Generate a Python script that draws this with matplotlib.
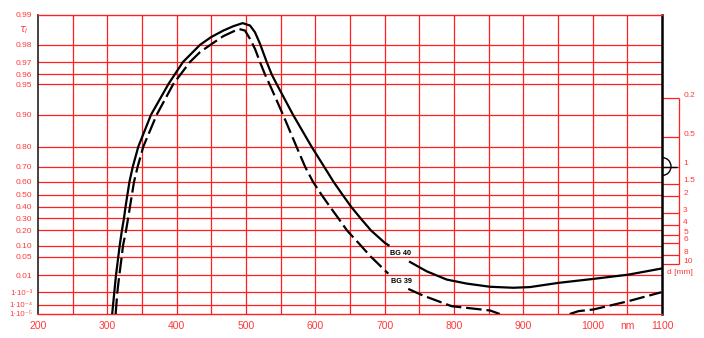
"""
Internal transmittance of BG 40 / BG 39 filter glass (Schott style diagram).
"""
import numpy as np
import matplotlib
matplotlib.use('Agg')
import matplotlib.pyplot as plt
from matplotlib.patches import Arc
from matplotlib.transforms import ScaledTranslation

# wavelength grid (nm) and labels along the bottom
x_ticks = list(range(200, 1101, 50))
x_labels = ['200', '', '300', '', '400', '', '500', '', '600', '', '700', '',
            '800', '', '900', '', '1000', 'nm', '1100']

# transmittance grid
y_ticks = [0.99, 0.98, 0.97, 0.96, 0.95, 0.90, 0.80, 0.70, 0.60, 0.50, 0.40,
           0.30, 0.20, 0.10, 0.05, 0.01, 1e-3, 1e-4, 1e-5]
y_labels = ['0.99', '0.98', '0.97', '0.96', '0.95', '0.90', '0.80', '0.70',
            '0.60', '0.50', '0.40', '0.30', '0.20', '0.10', '0.05', '0.01',
            '1\u00b710\u207b\u00b3', '1\u00b710\u207b\u2074', '1\u00b710\u207b\u2075']

# thickness scale on the right (d = 1 mm at tau = 0.70)
d_ref_tau = 0.70
d_ticks = [0.2, 0.5, 1, 1.5, 2, 3, 4, 5, 6, 8, 10]
d_labels = ['0.2', '0.5', '1', '1.5', '2', '3', '4', '5', '6', '8', '10']

# BG 40 (solid), nan = gap for the label
bg40_nm = [307, 310, 312.5, 315.8, 317.8, 321, 324, 326.3, 331.9, 336.8, 344.7,
           363, 388, 409, 433.7, 449.5, 467.3, 481.7, 495.2, 505.8, 513, 520.2,
           529.9, 537.1, 544.3, 567.8, 594.5, 612.5, 626.2, 639.2, 651.4, 665.1,
           680.3, 700.5, 705.5, np.nan, 736.5, 760.6, 789.5, 818.3, 852, 885.6,
           909.6, 950.5, 1001, 1051.4, 1098.6]
bg40_tau = [1e-5, 9.6e-4, 0.01, 0.05, 0.10, 0.20, 0.30, 0.40, 0.60, 0.70, 0.80,
            0.90, 0.95, 0.97, 0.9799, 0.9832, 0.9856, 0.9870, 0.9879, 0.9872,
            0.9850, 0.9804, 0.97, 0.96, 0.95, 0.90, 0.80, 0.70, 0.60, 0.50,
            0.40, 0.30, 0.20, 0.115, 0.1027, np.nan, 0.0341, 0.01483, 0.006,
            0.00361, 0.00233, 0.00202, 0.00223, 0.00396, 0.0065, 0.0105, 0.0192]

# BG 39 (dashed)
bg39_nm = [312, 314.4, 317.3, 320.7, 322.6, 327, 330, 332.7, 338.5, 343.8, 351.9,
           371.2, 395, 419, 433.7, 449.5, 467.3, 481.7, 490.3, 498.6, 505.8, 513,
           520.2, 527.4, 533.9, 553.4, 572.8, 585.1, 596.6, 608.9, 620.9, 633.1,
           645.7, 662.3, 679.6, 705.2, np.nan, 734, 755.3, 796.7, 852, 866,
           np.nan, 967, 979.3, 1001, 1051.4, 1098.6]
bg39_tau = [1e-5, 1e-3, 0.01, 0.05, 0.10, 0.20, 0.30, 0.40, 0.60, 0.70, 0.80,
            0.90, 0.95, 0.97, 0.9762, 0.9801, 0.9836, 0.9853, 0.9861, 0.9856,
            0.9825, 0.9779, 0.97, 0.96, 0.95, 0.90, 0.80, 0.70, 0.60, 0.50,
            0.40, 0.30, 0.20, 0.115, 0.0518, 0.0117, np.nan, 0.00171, 5.8e-4,
            6.9e-5, 2.5e-5, 1e-5, np.nan, 1e-5, 2.1e-5, 3.2e-5, 2.0e-4, 1.0e-3]

RED = '#ff1f1f'
LABEL_RED = '#ff3a3a'


def fwd(t):
    """
    Double-log transmittance axis: -log10(-log10(tau)).
    """
    t = np.clip(np.asarray(t, dtype=float), 1e-12, 1 - 1e-12)
    return -np.log10(-np.log10(t))


def inv(u):
    return 10 ** (-(10 ** (-np.asarray(u, dtype=float))))


def main():

    plt.rc('font', family=['Liberation Sans', 'DejaVu Sans'])
    plt.rc('xtick', labelsize=7.5)
    plt.rc('ytick', labelsize=6)

    fig = plt.figure(figsize=(7.04, 3.38), dpi=100)
    ax = fig.add_axes([38 / 704, 1 - 314 / 338, 624 / 704, 299 / 338])

    ax.set_yscale('function', functions=(fwd, inv))
    ax.set_xlim(200, 1100)
    ax.set_ylim(1e-5, 0.99)

    # grid
    for x in x_ticks[1:-1]:
        ax.axvline(x, color=RED, lw=0.9, zorder=1)
    for y in y_ticks[1:-1]:
        ax.axhline(y, color=RED, lw=0.9, zorder=1)

    ax.plot(bg40_nm, bg40_tau, color='k', lw=1.6, zorder=3)
    ax.plot(bg39_nm, bg39_tau, color='k', lw=1.6, dashes=(7, 2.2), zorder=3)

    ax.text(708, 0.062, 'BG 40', fontsize=5.2, fontweight='bold', va='center', zorder=4)
    ax.text(709, 0.0047, 'BG 39', fontsize=5.2, fontweight='bold', va='center', zorder=4)

    ax.set_xticks(x_ticks)
    ax.set_xticklabels(x_labels, color=LABEL_RED)
    ax.set_yticks(y_ticks)
    ax.set_yticklabels(y_labels, color=LABEL_RED)
    # the 1e-x labels sit close together
    for lab in ax.get_yticklabels()[-3:]:
        lab.set_fontsize(5.6)
    ax.minorticks_off()
    ax.tick_params(axis='both', length=0)
    ax.tick_params(axis='x', pad=5)
    ax.tick_params(axis='y', pad=4)

    ax.spines['top'].set_color(RED)
    ax.spines['bottom'].set_color(RED)
    ax.spines['top'].set_linewidth(1.0)
    ax.spines['bottom'].set_linewidth(1.0)
    ax.spines['left'].set_color('#222222')
    ax.spines['left'].set_linewidth(1.2)
    ax.spines['right'].set_color('k')
    ax.spines['right'].set_linewidth(1.8)

    fig.text(19 / 704, 1 - 30 / 338, r'$\tau_i$', color=LABEL_RED, fontsize=7, va='center')

    # thickness bracket on the right
    d_tau = [d_ref_tau ** d for d in d_ticks]
    ax.hlines(d_tau, 1100, 1124.5, color=RED, lw=0.9, clip_on=False)
    ax.vlines(1124.5, min(d_tau), max(d_tau), color=RED, lw=0.9, clip_on=False)
    ax.hlines(d_ref_tau, 1100, 1121.5, color='k', lw=1.0, clip_on=False, zorder=5)
    for t, lab in zip(d_tau, d_labels):
        ax.annotate(lab, xy=(1124.5, t), xytext=(3, 2), textcoords='offset points',
                    fontsize=6, color=LABEL_RED, va='center', ha='left',
                    annotation_clip=False)
    ax.text(1107, d_ref_tau ** 12.1, 'd [mm]', fontsize=6, color=LABEL_RED,
            va='center', ha='left', clip_on=False)

    trans = fig.dpi_scale_trans + ScaledTranslation(1100, d_ref_tau, ax.transData)
    ax.add_patch(Arc((0, 0), 0.18, 0.18, theta1=-90, theta2=90, transform=trans,
                     color='k', lw=1.0, clip_on=False))

    plt.savefig('out.png', dpi=100)


if __name__ == '__main__':
    main()
